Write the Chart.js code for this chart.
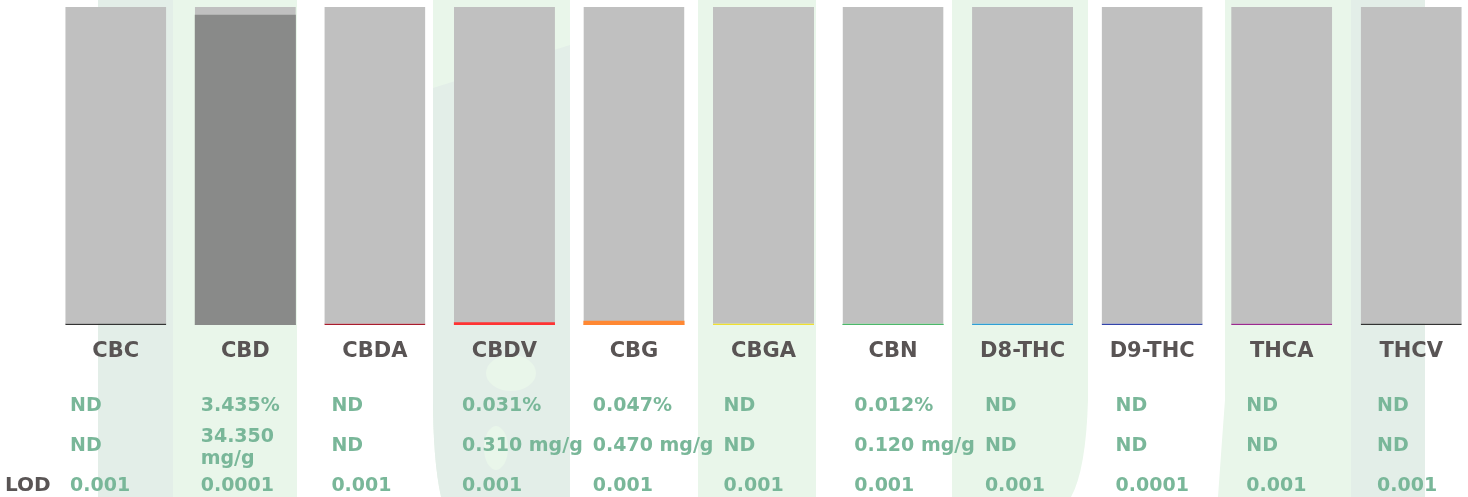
<!DOCTYPE html>
<html>
<head>
<meta charset="utf-8">
<script src="https://cdn.jsdelivr.net/npm/chart.js@4"></script>
<style>
  html, body { margin: 0; padding: 0; background: #fff; overflow: hidden; }
  #wrap { width: 1476px; height: 497px; position: relative; }
</style>
</head>
<body>
<div id="wrap"><canvas id="potencyChart"></canvas></div>
<script>
// Data
const compounds = ['CBC', 'CBD', 'CBDA', 'CBDV', 'CBG', 'CBGA', 'CBN', 'D8-THC', 'D9-THC', 'THCA', 'THCV'];
const percentValues = [0, 3.435, 0, 0.031, 0.047, 0, 0.012, 0, 0, 0, 0];
const percentLabels = ['ND', '3.435%', 'ND', '0.031%', '0.047%', 'ND', '0.012%', 'ND', 'ND', 'ND', 'ND'];
const mgLabels = ['ND', '34.350 mg/g', 'ND', '0.310 mg/g', '0.470 mg/g', 'ND', '0.120 mg/g', 'ND', 'ND', 'ND', 'ND'];
const lodLabels = ['0.001', '0.0001', '0.001', '0.001', '0.001', '0.001', '0.001', '0.001', '0.0001', '0.001', '0.001'];
const compoundColors = ['#333333', '#898a89', '#a81c2c', '#ff3333', '#ff8833', '#f0e030',
                        '#4cb86a', '#2e9fd6', '#3344aa', '#9b2a8f', '#333333'];
const scaleMax = 3.52;

const labelColor = '#595454';
const valueColor = '#79b799';
const fontFamily = '"DejaVu Sans", Verdana, sans-serif';

// Faint logo watermark behind the bars
const watermark = {
    id: 'watermark',
    beforeDraw(chart) {
        const ctx = chart.ctx;
        const dark = '#e3eee8';
        const light = '#e9f6ea';
        ctx.save();
        ctx.fillStyle = dark;
        ctx.fillRect(98, 0, 75, 497);
        ctx.fillStyle = light;
        ctx.fillRect(173, 0, 124, 497);

        // middle stroke with droplets
        ctx.fillStyle = light;
        ctx.beginPath();
        ctx.moveTo(433, 0);
        ctx.lineTo(570, 0);
        ctx.lineTo(570, 497);
        ctx.lineTo(441, 497);
        ctx.quadraticCurveTo(433, 460, 433, 400);
        ctx.closePath();
        ctx.fill();
        ctx.fillStyle = dark;
        ctx.beginPath();
        ctx.moveTo(433, 88);
        ctx.lineTo(570, 45);
        ctx.lineTo(570, 497);
        ctx.lineTo(441, 497);
        ctx.quadraticCurveTo(433, 460, 433, 400);
        ctx.closePath();
        ctx.fill();
        ctx.fillStyle = light;
        ctx.beginPath();
        ctx.ellipse(511, 373, 25, 18, 0, 0, Math.PI * 2);
        ctx.fill();
        ctx.beginPath();
        ctx.ellipse(496, 448, 12, 22, 0, 0, Math.PI * 2);
        ctx.fill();

        ctx.fillRect(698, 0, 118, 497);

        ctx.beginPath();
        ctx.moveTo(952, 0);
        ctx.lineTo(1088, 0);
        ctx.lineTo(1088, 400);
        ctx.quadraticCurveTo(1086, 470, 1071, 497);
        ctx.lineTo(952, 497);
        ctx.closePath();
        ctx.fill();

        ctx.beginPath();
        ctx.moveTo(1225, 0);
        ctx.lineTo(1351, 0);
        ctx.lineTo(1351, 497);
        ctx.lineTo(1218, 497);
        ctx.quadraticCurveTo(1222, 440, 1225, 400);
        ctx.closePath();
        ctx.fill();
        ctx.fillStyle = dark;
        ctx.fillRect(1351, 0, 74, 497);
        ctx.restore();
    }
};

// Category names and the result rows under the bars
const resultRows = {
    id: 'resultRows',
    afterDraw(chart) {
        const ctx = chart.ctx;
        const x = chart.scales.x;
        const textLeft = 70;
        const textStep = 130.7;
        ctx.save();

        ctx.font = 'bold 21px ' + fontFamily;
        ctx.fillStyle = labelColor;
        ctx.textAlign = 'center';
        ctx.textBaseline = 'alphabetic';
        compounds.forEach((name, i) => {
            ctx.fillText(name, x.getPixelForValue(i), 357);
        });

        ctx.font = 'bold 20px ' + fontFamily;
        ctx.textAlign = 'left';
        ctx.fillText('LOD', 5, 491);

        ctx.font = 'bold 19px ' + fontFamily;
        ctx.fillStyle = valueColor;
        compounds.forEach((name, i) => {
            const left = textLeft + i * textStep;
            ctx.fillText(percentLabels[i], left, 411);

            // wrap mg/g text when it does not fit the column
            let lines = [mgLabels[i]];
            if (ctx.measureText(mgLabels[i]).width > 128) {
                lines = mgLabels[i].split(' ');
            }
            const first = 451 - (lines.length - 1) * 9;
            lines.forEach((line, k) => ctx.fillText(line, left, first + k * 22));

            ctx.fillText(lodLabels[i], left, 491);
        });
        ctx.restore();
    }
};

const chart = new Chart(document.getElementById('potencyChart'), {
    type: 'bar',
    data: {
        labels: compounds,
        datasets: [
            {
                label: 'Result',
                data: percentValues,
                backgroundColor: compoundColors,
                borderWidth: 0,
                grouped: false,
                order: 1
            },
            {
                label: 'Scale',
                data: compounds.map(() => scaleMax),
                backgroundColor: '#c0c0c0',
                borderColor: compoundColors,
                borderWidth: { top: 0, left: 0, right: 0, bottom: 1.5 },
                borderSkipped: false,
                grouped: false,
                order: 2
            }
        ]
    },
    options: {
        responsive: true,
        maintainAspectRatio: false,
        animation: false,
        datasets: {
            bar: { barPercentage: 0.78, categoryPercentage: 1 }
        },
        layout: { padding: { left: 51, right: 0, top: 7, bottom: 172 } },
        plugins: {
            legend: { display: false },
            tooltip: { enabled: false }
        },
        scales: {
            x: { display: false },
            y: { display: false, min: 0, max: scaleMax }
        }
    },
    plugins: [watermark, resultRows]
});
</script>
</body>
</html>
